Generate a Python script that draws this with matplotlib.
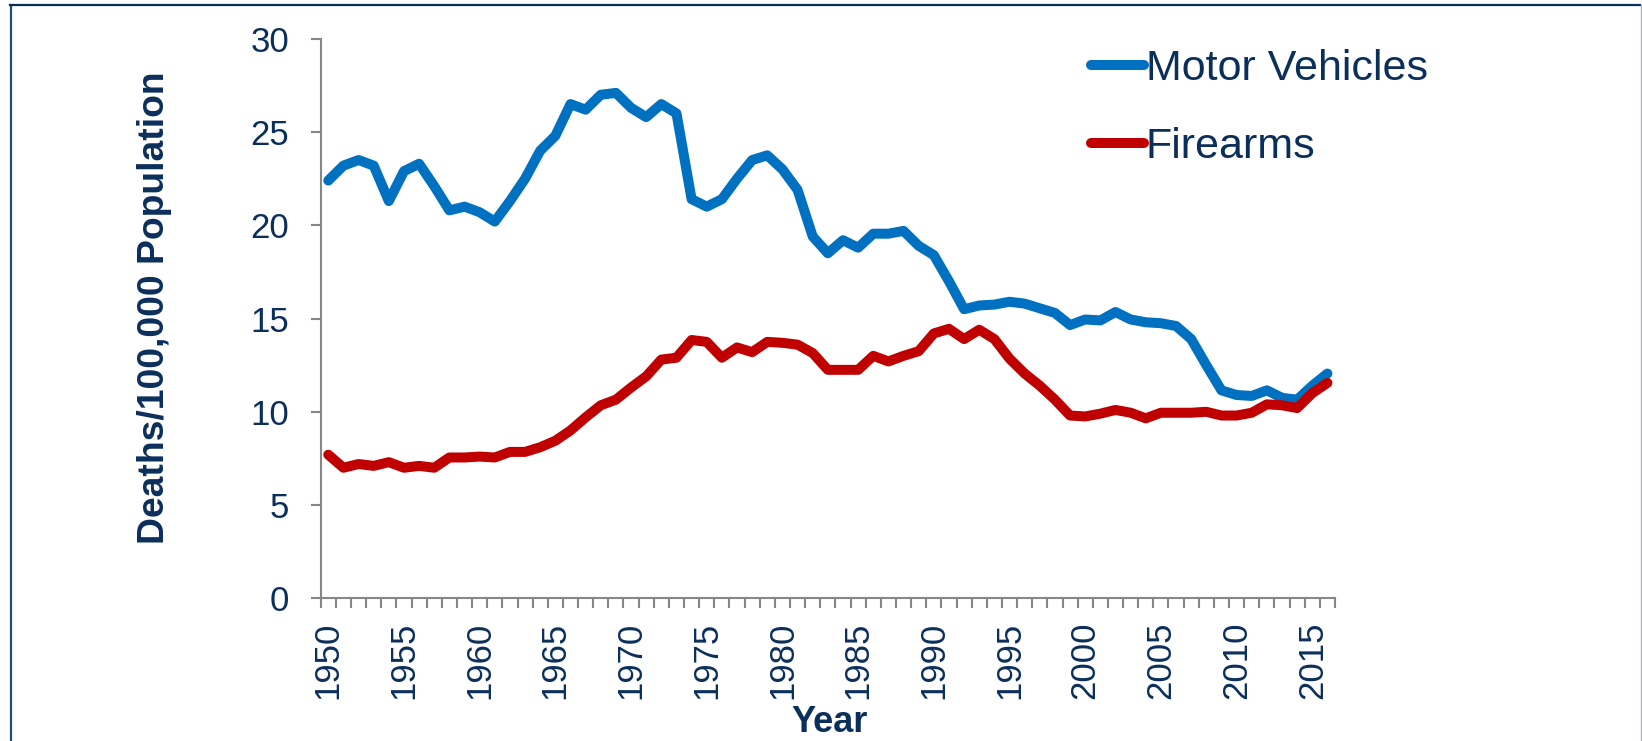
import numpy as np
import matplotlib
matplotlib.use("Agg")
import matplotlib.pyplot as plt
from matplotlib.lines import Line2D

plt.rcParams['font.family'] = ['Liberation Sans', 'DejaVu Sans']

# data (deaths per 100,000 population)
years = np.arange(1950, 2017)
motor_vehicles = [22.4, 23.2, 23.5, 23.2, 21.3, 22.9, 23.3, 22.1, 20.8, 21.0,
                  20.7, 20.2, 21.3, 22.5, 24.0, 24.8, 26.5, 26.2, 27.0, 27.1,
                  26.3, 25.8, 26.5, 26.0, 21.4, 21.0, 21.4, 22.5, 23.5, 23.75,
                  23.0, 21.9, 19.4, 18.5, 19.2, 18.8, 19.55, 19.55, 19.7, 18.9,
                  18.4, 17.0, 15.5, 15.7, 15.75, 15.9, 15.8, 15.55, 15.3, 14.65,
                  14.95, 14.9, 15.35, 14.95, 14.8, 14.75, 14.6, 13.9, 12.5, 11.15,
                  10.9, 10.85, 11.15, 10.75, 10.65, 11.4, 12.05]
firearms = [7.7, 7.0, 7.2, 7.1, 7.3, 7.0, 7.1, 7.0, 7.55, 7.55,
            7.6, 7.55, 7.85, 7.85, 8.1, 8.45, 9.0, 9.7, 10.35, 10.65,
            11.3, 11.9, 12.8, 12.9, 13.85, 13.75, 12.9, 13.45, 13.2, 13.75,
            13.7, 13.6, 13.15, 12.25, 12.25, 12.25, 13.0, 12.7, 13.0, 13.25,
            14.2, 14.45, 13.9, 14.4, 13.9, 12.85, 12.05, 11.4, 10.65, 9.8,
            9.75, 9.9, 10.1, 9.95, 9.65, 9.95, 9.95, 9.95, 10.0, 9.8,
            9.8, 9.95, 10.4, 10.35, 10.2, 11.0, 11.55]
series_names = ["Motor Vehicles", "Firearms"]
yticks = [0, 5, 10, 15, 20, 25, 30]

navy = '#0B2F5B'
grey = '#868686'

W, H = 1642, 741
fig = plt.figure(figsize=(W / 100, H / 100), dpi=100)
ax = fig.add_axes([320.7 / W, 1 - 598.3 / H, (1335 - 320.7) / W, (598.3 - 38.8) / H])

ax.plot(years, motor_vehicles, color='#0070C0', lw=7.2, solid_capstyle='round',
        solid_joinstyle='round', label=series_names[0])
ax.plot(years, firearms, color='#C00000', lw=7.2, solid_capstyle='round',
        solid_joinstyle='round', label=series_names[1])

ax.set_xlim(years[0] - 0.5, years[-1] + 0.5)
ax.set_ylim(0, 30)
ax.set_yticks(yticks)
ax.set_xticks(years[::5])
ax.set_xticks(np.append(years - 0.5, years[-1] + 0.5), minor=True)

for s in ['top', 'right']:
    ax.spines[s].set_visible(False)
for s in ['left', 'bottom']:
    ax.spines[s].set_color(grey)
    ax.spines[s].set_linewidth(1.5)

ax.tick_params(axis='y', length=7.2, width=1.5, color=grey, labelcolor=navy,
               labelsize=25, pad=15.6)
ax.tick_params(axis='x', which='major', length=0, labelcolor=navy, labelsize=25,
               pad=16.8, labelrotation=90)
ax.tick_params(axis='x', which='minor', length=7.2, width=1.5, color=grey)

leg = ax.legend(loc='upper left', bbox_to_anchor=(1091 / W, 1 - 49 / H),
                bbox_transform=fig.transFigure, frameon=False, fontsize=31,
                handlelength=1.22, handletextpad=0.05, labelspacing=0.89,
                borderpad=0, borderaxespad=0)
for t in leg.get_texts():
    t.set_color(navy)

fig.text(155 / W, 1 - 308 / H, "Deaths/100,000 Population", rotation=90,
         ha='center', va='center', fontsize=26.8, fontweight='bold', color=navy)
fig.text(830 / W, (H - 732) / H, "Year", ha='center', va='baseline',
         fontsize=26, fontweight='bold', color=navy)

# outer frame
fig.add_artist(Line2D([10.5 / W, 10.5 / W], [0, 1 - 5 / H], transform=fig.transFigure,
                      color='#1F4E79', lw=1.6))
fig.add_artist(Line2D([10 / W, 1640 / W], [1 - 5 / H, 1 - 5 / H], transform=fig.transFigure,
                      color='#0B2F5B', lw=1.6))
fig.add_artist(Line2D([1640.5 / W, 1640.5 / W], [0, 1 - 5 / H], transform=fig.transFigure,
                      color='#A9B4C2', lw=1.0))

fig.savefig('out.png', dpi=100)
